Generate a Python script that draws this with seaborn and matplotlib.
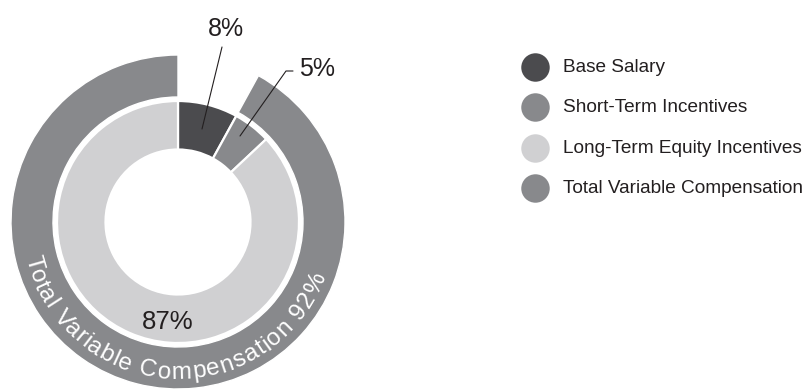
import numpy as np
import matplotlib
matplotlib.use("Agg")
import matplotlib.pyplot as plt
import seaborn as sns
from matplotlib.font_manager import FontProperties

# Pay mix data
components = ["Base Salary", "Short-Term Incentives", "Long-Term Equity Incentives"]
shares = [8, 5, 87]
variable_label = "Total Variable Compensation"
variable_share = 92
legend_labels = ["Base Salary", "Short-Term Incentives",
                 "Long-Term Equity Incentives", "Total Variable Compensation"]
share_labels = ["8%", "5%", "87%"]

sns.set_theme(style="white")
plt.rcParams["font.family"] = ["Liberation Sans", "DejaVu Sans"]

palette = sns.color_palette(["#4b4b4e", "#88898c", "#d0d0d2"])
outer_color = "#88898c"
legend_colors = [palette[0], palette[1], palette[2], outer_color]
ink = "#231f20"

W, H = 807, 389
fig = plt.figure(figsize=(W / 100, H / 100), dpi=100)
ax = fig.add_axes([0, 0, 1, 1])

cx, cy = 178, H - 222
r_in_outer, r_in_inner = 121, 72.5
r_out_outer, r_out_inner = 167, 125

# inner ring: the three pay components
ax.pie(shares, colors=palette, startangle=90, counterclock=False,
       radius=r_in_outer, center=(cx, cy),
       wedgeprops=dict(width=r_in_outer - r_in_inner, edgecolor="white", linewidth=1.6))

# outer ring: variable pay, spanning everything after base salary
outer_vals = [shares[0], variable_share]
wedges, _ = ax.pie(outer_vals, colors=["white", outer_color], startangle=90,
                   counterclock=False, radius=r_out_outer, center=(cx, cy),
                   wedgeprops=dict(width=r_out_outer - r_out_inner,
                                   edgecolor="white", linewidth=1.0))
wedges[0].set_visible(False)

ax.set_xlim(0, W)
ax.set_ylim(0, H)
ax.set_aspect("equal")
ax.axis("off")

# share labels with leader lines
fs_lab = 18
ax.text(225.5, H - 29, share_labels[0], fontsize=fs_lab, color=ink, ha="center", va="center")
ax.plot([222, 202], [H - 47, H - 129], color=ink, lw=0.8)
ax.text(317.5, H - 69, share_labels[1], fontsize=fs_lab, color=ink, ha="center", va="center")
ax.plot([293, 286, 240], [H - 71, H - 71, H - 136], color=ink, lw=0.8)
ax.text(168, H - 322, share_labels[2], fontsize=18.5, color=ink, ha="center", va="center")

# curved caption along the outer ring
caption = f"{variable_label} {variable_share}%"
prop = FontProperties(family="Liberation Sans", size=17.5)
renderer = fig.canvas.get_renderer()
def width(s):
    if not s:
        return 0.0
    w, h, d = renderer.get_text_width_height_descent(s, prop, ismath=False)
    return w
centers = np.array([(width(caption[:i]) + width(caption[:i + 1])) / 2
                    for i in range(len(caption))])
r_mid, r_base = 149, 157
a_first, a_last = np.radians(196), np.radians(336)
n = len(caption)
track = ((a_last - a_first) * r_mid - (centers[-1] - centers[0])) / (n - 1)
pos = centers - centers[0] + np.arange(n) * track
for ch, p in zip(caption, pos):
    a = a_first + p / r_mid
    x = cx + r_base * np.cos(a)
    y = cy + r_base * np.sin(a)
    ax.text(x, y, ch, fontproperties=prop, color="white", ha="center",
            va="baseline", rotation=np.degrees(a) + 90, rotation_mode="anchor")

# legend
leg_y = [67, 107, 148, 188]
for lab, col, yy in zip(legend_labels, legend_colors, leg_y):
    ax.scatter([535], [H - yy], s=420, color=col, linewidths=0)
    ax.text(563, H - yy, lab, fontsize=13.7, color=ink, ha="left", va="center")

fig.savefig("out.png", dpi=100, facecolor="white")
